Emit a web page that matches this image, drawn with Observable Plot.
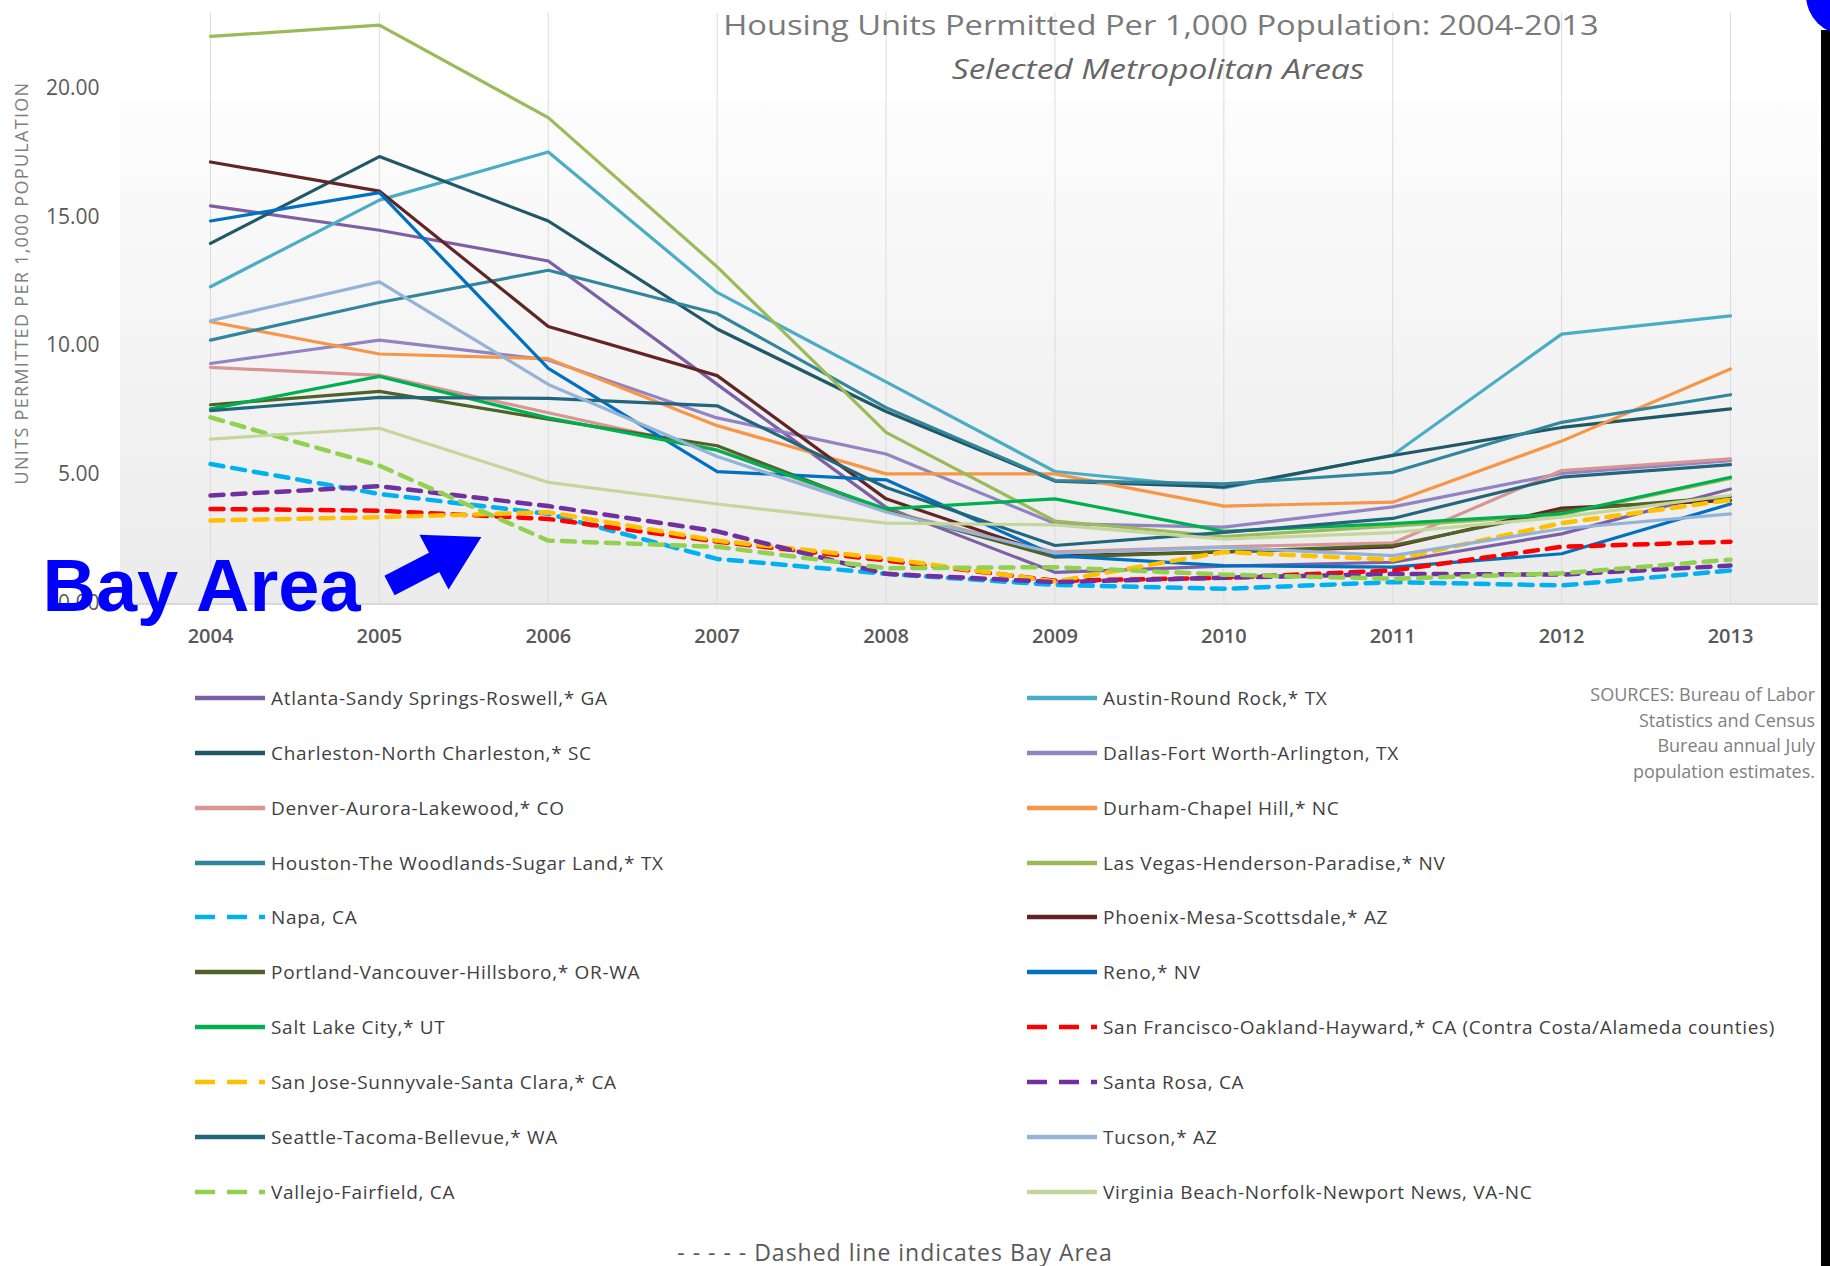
<!DOCTYPE html>
<html><head><meta charset="utf-8">
<script src="https://cdn.jsdelivr.net/npm/d3@7"></script>
<script src="https://cdn.jsdelivr.net/npm/@observablehq/plot@0.6"></script>
<style>
html,body{margin:0;padding:0;background:#fff;}
body{width:1830px;height:1266px;position:relative;overflow:hidden;font-family:"Open Sans",sans-serif;}
.abs{position:absolute;}
#bg{left:120px;top:100px;width:1698px;height:503px;background:linear-gradient(to bottom,#fdfdfd,#ebebeb);border-bottom:2px solid #d9d9d9;}
#chart{left:0;top:0;}
.title{left:1161px;top:11px;font-size:27px;line-height:1;color:#7a7a7a;white-space:nowrap;transform:translateX(-50%) scaleX(1.21);}
.subtitle{left:1158px;top:55px;font-size:27px;line-height:1;font-style:italic;color:#666;white-space:nowrap;transform:translateX(-50%) scaleX(1.24);}
.ytitle{left:21px;top:283px;font-size:18px;letter-spacing:1.3px;line-height:1;color:#7f7f7f;white-space:nowrap;transform:translate(-50%,-50%) rotate(-90deg);}
.legitem{display:flex;align-items:center;height:26px;white-space:nowrap;font-size:19px;letter-spacing:0.7px;color:#3f3f3f;}
.legitem svg{display:block;margin-right:4px;}
.sources{right:15px;top:682px;font-size:18px;line-height:25.5px;color:#7f7f7f;text-align:right;}
.footer{left:895px;top:1252px;font-size:23px;letter-spacing:1px;line-height:1;color:#595959;white-space:nowrap;transform:translate(-50%,-50%);}
</style></head>
<body>
<script>
// ---- data ----
const years = [2004, 2005, 2006, 2007, 2008, 2009, 2010, 2011, 2012, 2013];

const metros = [
  "Atlanta-Sandy Springs-Roswell,* GA",
  "Austin-Round Rock,* TX",
  "Charleston-North Charleston,* SC",
  "Dallas-Fort Worth-Arlington, TX",
  "Denver-Aurora-Lakewood,* CO",
  "Durham-Chapel Hill,* NC",
  "Houston-The Woodlands-Sugar Land,* TX",
  "Las Vegas-Henderson-Paradise,* NV",
  "Napa, CA",
  "Phoenix-Mesa-Scottsdale,* AZ",
  "Portland-Vancouver-Hillsboro,* OR-WA",
  "Reno,* NV",
  "Salt Lake City,* UT",
  "San Francisco-Oakland-Hayward,* CA (Contra Costa/Alameda counties)",
  "San Jose-Sunnyvale-Santa Clara,* CA",
  "Santa Rosa, CA",
  "Seattle-Tacoma-Bellevue,* WA",
  "Tucson,* AZ",
  "Vallejo-Fairfield, CA",
  "Virginia Beach-Norfolk-Newport News, VA-NC"
];

const colors = [
  "#7d5fa6", "#4bacc6", "#1f5866", "#9383c3", "#d99594",
  "#f79646", "#31859c", "#9bbb59", "#00b0f0", "#632523",
  "#4f6228", "#0070c0", "#00b050", "#ff0000", "#ffc000",
  "#7030a0", "#22657c", "#95b3d7", "#92d050", "#c3d69b"
];

const bayArea = [false, false, false, false, false, false, false, false, true, false,
                 false, false, false, true, true, true, false, false, true, false];

const atlanta       = [15.43, 14.48, 13.29, 8.5, 3.73, 1.21, 1.45, 1.6, 2.7, 4.44];
const austin        = [12.29, 15.65, 17.52, 12.07, 8.6, 5.12, 4.48, 5.76, 10.45, 11.16];
const charleston    = [13.97, 17.34, 14.84, 10.65, 7.45, 4.75, 4.52, 5.74, 6.83, 7.55];
const dallas        = [9.31, 10.22, 9.45, 7.2, 5.8, 3.1, 2.96, 3.75, 5.05, 5.54];
const denver        = [9.16, 8.85, 7.4, 5.95, 3.6, 2.0, 2.2, 2.35, 5.16, 5.61];
const durham        = [10.93, 9.68, 9.5, 6.9, 5.03, 5.03, 3.78, 3.93, 6.3, 9.10];
const houston       = [10.22, 11.68, 12.93, 11.25, 7.6, 4.77, 4.64, 5.09, 7.03, 8.10];
const lasVegas      = [22.0, 22.44, 18.85, 13.06, 6.64, 3.2, 2.6, 3.0, 3.45, 4.85];
const napa          = [5.41, 4.25, 3.48, 1.73, 1.15, 0.72, 0.57, 0.83, 0.70, 1.28];
const phoenix       = [17.13, 16.0, 10.75, 8.84, 4.06, 1.85, 2.0, 2.2, 3.7, 4.0];
const portland      = [7.71, 8.23, 7.15, 6.12, 3.6, 1.8, 2.0, 2.25, 3.6, 4.15];
const reno          = [14.84, 15.94, 9.12, 5.12, 4.8, 1.86, 1.47, 1.41, 1.93, 3.86];
const saltLake      = [7.55, 8.81, 7.2, 5.95, 3.67, 4.06, 2.8, 3.1, 3.48, 4.90];
const sanFrancisco  = [3.67, 3.6, 3.28, 2.4, 1.67, 0.88, 1.0, 1.28, 2.2, 2.4];
const sanJose       = [3.22, 3.35, 3.54, 2.44, 1.75, 0.85, 2.0, 1.7, 3.12, 4.02];
const santaRosa     = [4.19, 4.55, 3.78, 2.8, 1.15, 0.83, 1.0, 1.15, 1.12, 1.47];
const seattle       = [7.48, 8.0, 7.96, 7.67, 4.5, 2.25, 2.76, 3.3, 4.9, 5.39];
const tucson        = [10.97, 12.48, 8.5, 5.7, 3.55, 1.95, 2.18, 1.86, 2.9, 3.48];
const vallejo       = [7.22, 5.35, 2.44, 2.2, 1.37, 1.41, 1.12, 0.96, 1.17, 1.7];
const virginiaBeach = [6.38, 6.80, 4.70, 3.86, 3.12, 3.05, 2.5, 2.75, 3.35, 4.2];

const series = [atlanta, austin, charleston, dallas, denver, durham, houston, lasVegas, napa, phoenix,
                portland, reno, saltLake, sanFrancisco, sanJose, santaRosa, seattle, tucson, vallejo, virginiaBeach];

const yTicks = [0, 5, 10, 15, 20];

const titleText = "Housing Units Permitted Per 1,000 Population: 2004-2013";
const subtitleText = "Selected Metropolitan Areas";
const yTitle = "UNITS PERMITTED PER 1,000 POPULATION";
const sourcesLines = ["SOURCES: Bureau of Labor", "Statistics and Census", "Bureau annual July", "population estimates."];
const footerText = "- - - - - Dashed line indicates Bay Area";

// annotation (data coordinates)
const calloutText = [{year: 2003.947, value: 0.64, label: "Bay Area"}];
const calloutShaft = [{x1: 2005.06, y1: 0.70, x2: 2005.36, y2: 1.72}];
const calloutHead = [{year: 2005.417, value: 1.93}];

// ---- build ----
const rows = [];
metros.forEach((m, i) => series[i].forEach((v, j) => rows.push({metro: m, year: years[j], value: v})));

const lineMarks = metros.map((m, i) => Plot.line(rows.filter(r => r.metro === m), {
  x: "year", y: "value", stroke: colors[i],
  strokeWidth: bayArea[i] ? 4.5 : 3.2,
  strokeDasharray: bayArea[i] ? "13,9" : undefined,
  strokeLinejoin: "round"
}));

const bg = document.createElement("div"); bg.id = "bg"; bg.className = "abs"; document.body.appendChild(bg);

const chart = Plot.plot({
  width: 1830, height: 660,
  marginLeft: 210, marginRight: 100, marginTop: 87.5, marginBottom: 57,
  x: {domain: [2004, 2013]},
  y: {domain: [0, 20]},
  style: {background: "none", overflow: "visible", fontFamily: "'Open Sans', sans-serif"},
  marks: [
    Plot.ruleX(years, {x: d => d, y1: 0, y2: 22.9, stroke: "#dcdcdc", strokeWidth: 1}),
    ...lineMarks,
    Plot.axisX({ticks: years, tickFormat: d => String(d), tickSize: 0, tickPadding: 25, fontSize: 20, fontWeight: 600, color: "#595959", label: null}),
    Plot.axisY({ticks: yTicks, tickFormat: d => d.toFixed(2), tickSize: 0, tickPadding: 111, fontSize: 21, color: "#595959", label: null}),
    Plot.link(calloutShaft, {x1: "x1", y1: "y1", x2: "x2", y2: "y2", stroke: "#0000ff", strokeWidth: 22}),
    Plot.dot(calloutHead, {x: "year", y: "value", symbol: "triangle", r: 23, fill: "#0000ff", stroke: "none", rotate: 62}),
    Plot.text(calloutText, {x: "year", y: "value", text: "label", fontSize: 74, fontWeight: "bold",
      fontFamily: "'Liberation Sans', Arial, sans-serif", fill: "#0000ff", textAnchor: "middle"})
  ]
});
chart.id = "chart"; chart.classList.add("abs");
document.body.appendChild(chart);

function addDiv(cls, html) { const d = document.createElement("div"); d.className = "abs " + cls; d.innerHTML = html; document.body.appendChild(d); return d; }
addDiv("title", titleText);
addDiv("subtitle", subtitleText);
addDiv("ytitle", yTitle);
addDiv("sources", sourcesLines.join("<br>"));
addDiv("footer", footerText);

// legend: two columns, row-major
metros.forEach((m, k) => {
  const row = Math.floor(k / 2), col = k % 2;
  const item = document.createElement("div");
  item.className = "abs legitem";
  item.style.left = (col ? 1027 : 195) + "px";
  item.style.top = (698 + row * 54.85 - 13) + "px";
  const dash = bayArea[k] ? ' stroke-dasharray="20,12"' : "";
  item.innerHTML = `<svg width="72" height="10"><line x1="0" y1="5" x2="70" y2="5" stroke="${colors[k]}" stroke-width="4.5"${dash}/></svg><span>${m}</span>`;
  document.body.appendChild(item);
});

// frame decorations at right edge
const strip = document.createElement("div"); strip.className = "abs";
Object.assign(strip.style, {left: "1821px", top: "30px", width: "9px", height: "1236px", background: "#000"});
document.body.appendChild(strip);
const arc = document.createElement("div"); arc.className = "abs";
Object.assign(arc.style, {left: "1806px", top: "-45px", width: "80px", height: "80px", borderRadius: "50%", background: "#0000ff"});
document.body.appendChild(arc);
</script>
</body></html>
